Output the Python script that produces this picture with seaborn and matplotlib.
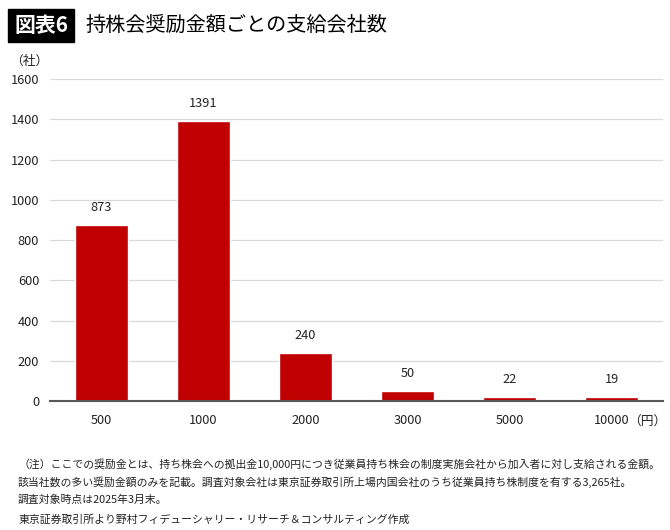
import pandas as pd
import matplotlib.pyplot as plt
import seaborn as sns

categories = ['500', '1000', '2000', '3000', '5000', '10000']
companies = [873, 1391, 240, 50, 22, 19]
y_ticks = [0, 200, 400, 600, 800, 1000, 1200, 1400, 1600]

title = '持株会奨励金額ごとの支給会社数'
notes = [
    '（注）ここでの奨励金とは、持ち株会への拠出金10,000円につき従業員持ち株会の制度実施会社から加入者に対し支給される金額。',
    '該当社数の多い奨励金額のみを記載。調査対象会社は東京証券取引所上場内国会社のうち従業員持ち株制度を有する3,265社。',
    '調査対象時点は2025年3月末。',
    '東京証券取引所より野村フィデューシャリー・リサーチ＆コンサルティング作成',
]

sns.set_style('white')
plt.rcParams['font.family'] = ['Noto Sans CJK JP', 'DejaVu Sans']

df = pd.DataFrame({'amount': categories, 'count': companies})

fig = plt.figure(figsize=(6.7, 5.3), dpi=100)
ax = fig.add_axes([0.075, 0.243, 0.914, 0.608])
sns.barplot(data=df, x='amount', y='count', color='#C00000', width=0.52,
            saturation=1, ax=ax, zorder=3)

ax.set_ylim(0, 1600)
ax.set_yticks(y_ticks)
ax.set_xlim(-0.5, 5.5)
ax.grid(axis='y', color='#d9d9d9', linewidth=0.9, zorder=0)
for s in ['top', 'right', 'left']:
    ax.spines[s].set_visible(False)
ax.spines['bottom'].set_color('#595959')
ax.spines['bottom'].set_linewidth(1.5)
ax.spines['bottom'].set_zorder(4)
ax.tick_params(axis='both', length=0, labelsize=9.2, colors='#222222')
ax.tick_params(axis='x', pad=9)
ax.tick_params(axis='y', pad=8)
ax.set_xlabel('')
ax.set_ylabel('')

for i, v in enumerate(companies):
    ax.text(i, v + 55, str(v), ha='center', va='bottom', fontsize=9.2, color='#222222')

ax.text(0.975, -0.065, '（円）', transform=ax.transAxes,
        ha='center', va='center', fontsize=9.2, color='#222222')
ax.text(-0.035, 1.055, '（社）', transform=ax.transAxes, ha='center', va='center',
        fontsize=9.2, color='#222222')

# title with black label box
fig.text(0.021, 0.952, '図表6', fontsize=15, fontweight='bold', color='white',
         va='center', ha='left',
         bbox=dict(boxstyle='square,pad=0.3', facecolor='black', edgecolor='black'))
fig.text(0.127, 0.952, title, fontsize=14.5, color='black', va='center', ha='left')

ys = [0.125, 0.091, 0.057, 0.02]
for t, y in zip(notes, ys):
    fig.text(0.027, y, t, fontsize=7.8, color='#222222', va='center', ha='left')

fig.savefig('out.png', dpi=100)
